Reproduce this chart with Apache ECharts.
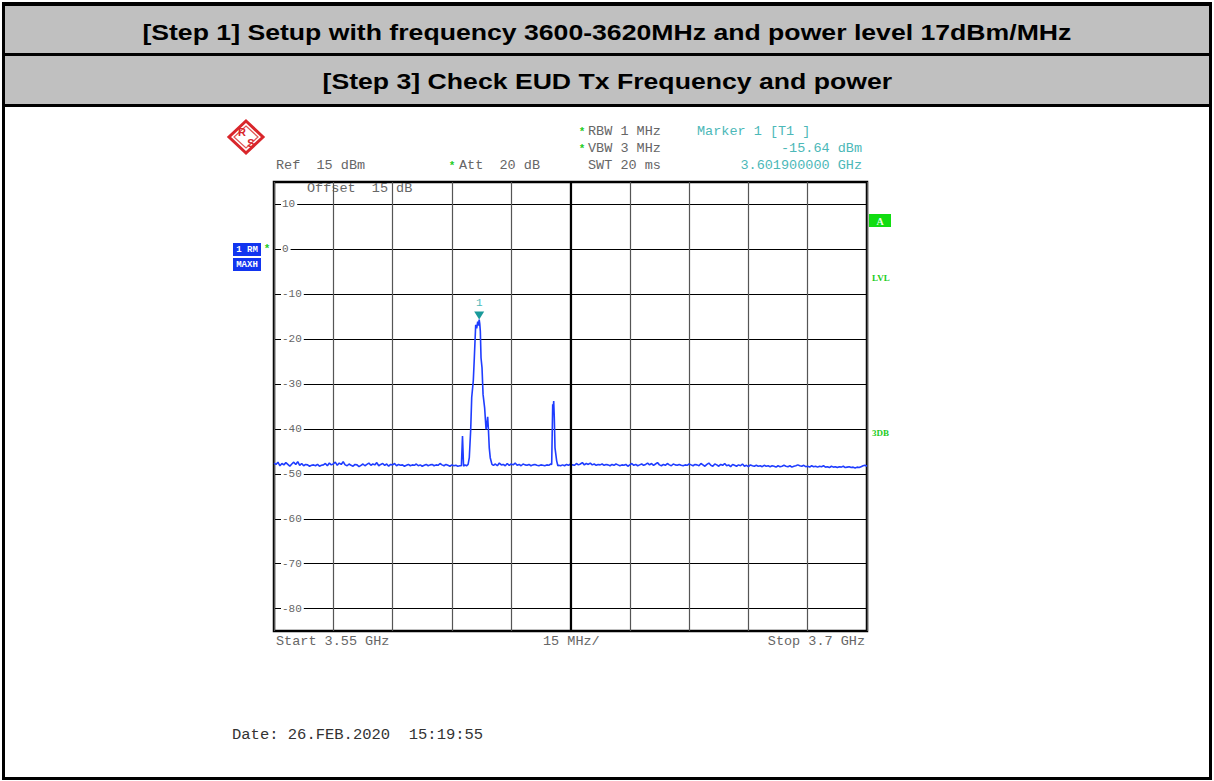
<!DOCTYPE html>
<html>
<head>
<meta charset="utf-8">
<script src="https://cdn.jsdelivr.net/npm/echarts@6/dist/echarts.min.js"></script>
<style>
body {
	margin: 0;
	width: 1214px;
	height: 781px;
	background: #fff;
	overflow: hidden;
}

#frame {
	position: absolute;
	left: 2px;
	top: 2px;
	width: 1210px;
	height: 778px;
	border: 3px solid #000;
	border-top-width: 4px;
	box-sizing: border-box;
}

.band {
	position: absolute;
	left: 0;
	width: 100%;
	background: #c0c0c0;
	border-bottom: 3px solid #000;
	text-align: center;
	font-family: "Liberation Sans", Arial, sans-serif;
	font-weight: bold;
	font-size: 22px;
	color: #000;
}

.band span {
	display: inline-block;
	transform: scaleX(1.21);
}

#band1 { top: 0; height: 47px; line-height: 53px; }
#band2 { top: 50px; height: 48px; line-height: 52px; }

#container {
	position: absolute;
	left: 0;
	top: 0;
	width: 1214px;
	height: 781px;
}
</style>
</head>
<body>
<div id="frame">
	<div class="band" id="band1"><span>[Step 1] Setup with frequency 3600-3620MHz and power level 17dBm/MHz</span></div>
	<div class="band" id="band2"><span>[Step 3] Check EUD Tx Frequency and power</span></div>
</div>
<div id="container"></div>

<script type="text/javascript">
	// sweep 3.55 GHz .. 3.7 GHz, 15 MHz/div, ref 15 dBm, 10 dB/div
	var startMHz = 3550;
	var stopMHz = 3700;
	var stepMHz = 0.5;
	var refDbm = 15;
	var bottomDbm = -85;

	// noise floor 3550.0 .. 3597.0 MHz
	var noiseA = [
		-47.6,-47.9,-47.4,-48.2,-47.7,-48.0,-47.5,-47.9,-48.3,-47.8,
		-47.4,-47.9,-47.3,-48.1,-47.7,-48.2,-47.9,-48.0,-48.3,-48.1,
		-48.0,-48.2,-47.9,-48.3,-48.1,-48.0,-47.7,-48.2,-47.6,-48.0,
		-47.8,-47.4,-48.1,-47.6,-47.9,-47.3,-48.0,-48.2,-47.8,-48.1,
		-48.3,-47.9,-48.0,-48.4,-48.1,-47.8,-48.2,-47.9,-47.6,-48.1,
		-47.8,-48.0,-47.5,-48.2,-47.9,-47.7,-48.1,-47.8,-48.3,-47.9,
		-48.0,-47.7,-48.2,-47.9,-48.1,-48.0,-48.3,-48.1,-47.9,-48.2,
		-48.0,-48.1,-47.8,-48.2,-48.0,-48.3,-48.1,-47.9,-48.2,-48.0,
		-47.9,-48.2,-48.0,-48.1,-47.7,-48.0,-48.2,-47.9,-48.1,-48.3,
		-48.0,-48.2,-48.1,-48.3,-48.2
	];
	var noiseAStart = 3550.0;

	// main carrier [MHz, dBm]
	var peakMain = [
		[3597.4,-48.2],[3597.68,-41.6],[3597.95,-48.3],[3598.3,-48.0],[3598.7,-48.2],
		[3599.1,-47.9],[3599.4,-46.4],[3599.76,-40.1],[3600.01,-33.0],[3600.41,-29.3],
		[3600.67,-24.2],[3601.02,-16.8],[3601.27,-17.6],[3601.53,-16.1],[3601.72,-17.0],
		[3601.9,-15.64],[3602.05,-16.6],[3602.19,-18.2],[3602.37,-24.2],[3602.62,-26.4],
		[3602.88,-32.3],[3603.28,-35.3],[3603.64,-40.1],[3603.8,-39.3],[3604.05,-37.3],
		[3604.23,-40.0],[3604.45,-44.2],[3604.7,-46.4],[3605.13,-47.9]
	];

	// noise floor 3605.5 .. 3620.0 MHz
	var noiseB = [
		-48.1,-47.8,-48.2,-47.6,-48.0,-47.9,-48.2,-47.7,-48.1,-47.8,
		-48.0,-47.6,-48.1,-47.9,-48.2,-47.8,-48.0,-48.1,-47.9,-48.2,
		-48.0,-47.9,-48.1,-48.2,-48.0,-48.1,-48.2,-48.0,-48.1,-47.8
	];
	var noiseBStart = 3605.5;

	// second emission [MHz, dBm]
	var peakSecond = [
		[3620.24,-47.9],[3620.5,-34.5],[3620.62,-35.8],[3620.75,-33.8],[3620.9,-37.5],
		[3621.08,-44.2],[3621.5,-47.1],[3621.8,-48.2]
	];

	// noise floor 3622.0 .. 3700.0 MHz
	var noiseC = [
		-48.1,-48.2,-48.0,-48.2,-47.9,-48.1,-47.8,-48.0,-48.1,-47.7,-48.0,
		-47.8,-47.5,-48.0,-47.7,-47.9,-47.6,-48.0,-47.8,-48.1,-47.9,
		-48.0,-47.8,-48.1,-47.9,-48.0,-48.2,-47.9,-48.1,-47.8,-48.0,
		-48.2,-48.0,-48.1,-47.9,-48.3,-48.0,-47.7,-48.1,-47.9,-48.2,
		-48.0,-47.8,-48.1,-47.9,-47.6,-48.0,-47.7,-48.1,-47.8,-47.5,
		-48.0,-48.2,-47.9,-48.1,-47.7,-48.0,-48.2,-47.8,-48.0,-48.1,
		-47.9,-48.1,-48.2,-48.0,-48.1,-47.8,-48.0,-48.2,-47.9,-48.0,
		-48.2,-47.7,-48.0,-48.3,-47.9,-47.6,-48.1,-48.3,-47.8,-48.0,
		-48.3,-47.9,-48.1,-47.7,-48.2,-48.0,-48.4,-47.9,-48.1,-48.3,
		-48.0,-48.2,-47.8,-48.3,-48.1,-48.4,-48.0,-48.2,-48.3,-48.1,
		-48.3,-48.2,-48.4,-48.1,-48.3,-48.2,-48.4,-48.2,-48.3,-48.5,
		-48.2,-48.4,-48.3,-48.1,-48.3,-48.4,-48.2,-48.5,-48.3,-48.2,
		-48.0,-48.2,-48.3,-48.1,-48.4,-48.3,-48.5,-48.2,-48.4,-48.3,
		-48.5,-48.3,-48.4,-48.2,-48.5,-48.4,-48.6,-48.3,-48.5,-48.4,
		-48.6,-48.4,-48.5,-48.3,-48.6,-48.5,-48.4,-48.6,-48.5,-48.7,
		-48.5,-48.6,-48.4,-48.2,-48.1,-48.3
	];
	var noiseCStart = 3622.0;

	var marker = { freqMHz: 3601.9, level: -15.64, name: '1' };

	// x is plotted as MHz above start so the 15 MHz grid starts at 0
	var trace = [];
	function addNoise(list, from) {
		for (var i = 0; i < list.length; i++) {
			trace.push([from + i * stepMHz - startMHz, list[i]]);
		}
	}
	function addPairs(list) {
		for (var i = 0; i < list.length; i++) {
			trace.push([list[i][0] - startMHz, list[i][1]]);
		}
	}
	addNoise(noiseA, noiseAStart);
	addPairs(peakMain);
	addNoise(noiseB, noiseBStart);
	addPairs(peakSecond);
	addNoise(noiseC, noiseCStart);

	var mono = '"Liberation Mono", "DejaVu Sans Mono", monospace';
	var gray = '#666';
	var teal = '#4cb8b8';
	var green = '#22cc22';

	function txt(x, y, s, opt) {
		opt = opt || {};
		return {
			type: 'text',
			x: x,
			y: y,
			silent: true,
			style: {
				text: s,
				fill: opt.color || gray,
				font: (opt.bold ? 'bold ' : '') + (opt.size || 13.5) + 'px ' + (opt.family || mono),
				textAlign: opt.align || 'left',
				textVerticalAlign: 'middle'
			}
		};
	}

	var dom = document.getElementById("container");
	var myChart = echarts.init(dom, null, { renderer: 'svg' });
	var option = {
		animation: false,
		backgroundColor: 'transparent',
		grid: {
			left: 274,
			top: 182,
			width: 593,
			height: 449,
			show: true,
			borderColor: '#000',
			borderWidth: 2.5,
			outerBoundsMode: 'none'
		},
		xAxis: {
			type: 'value',
			min: 0,
			max: stopMHz - startMHz,
			interval: 15,
			axisLine: { show: false },
			axisTick: { show: false },
			axisLabel: { show: false },
			splitLine: { show: true, lineStyle: { color: '#555', width: 1.2 } }
		},
		yAxis: {
			type: 'value',
			min: bottomDbm,
			max: refDbm,
			interval: 5,
			axisLine: { show: false },
			axisTick: { show: false },
			splitLine: {
				show: true,
				showMinLine: true,
				showMaxLine: true,
				lineStyle: { color: ['rgba(0,0,0,0)', '#000'], width: 1.2 }
			},
			axisLabel: {
				inside: true,
				margin: 7,
				color: gray,
				fontFamily: mono,
				fontSize: 11,
				backgroundColor: '#fff',
				padding: [0, 2, 0, 1],
				formatter: function (v) {
					return (v % 10 === 0 && v > bottomDbm && v < refDbm) ? String(v) : '';
				}
			}
		},
		series: [
			{
				name: 'Trace 1',
				type: 'line',
				data: trace,
				showSymbol: false,
				lineStyle: { color: '#1f3dff', width: 1.6 },
				itemStyle: { color: '#1f3dff' },
				markLine: {
					silent: true,
					symbol: 'none',
					label: { show: false },
					lineStyle: { color: '#000', width: 2.2, type: 'solid' },
					data: [{ xAxis: (stopMHz - startMHz) / 2 }]
				},
				markPoint: {
					silent: true,
					symbol: 'triangle',
					symbolRotate: 180,
					symbolSize: [10, 8],
					symbolOffset: [0, -4],
					itemStyle: { color: '#1a9a9a' },
					label: {
						show: true,
						position: 'top',
						distance: 3,
						color: teal,
						fontFamily: mono,
						fontSize: 11,
						formatter: marker.name
					},
					data: [{ coord: [marker.freqMHz - startMHz, marker.level] }]
				}
			}
		],
		graphic: [
			// R&S logo
			{ type: 'polygon', silent: true, shape: { points: [[246,121],[263,137],[246,153],[229,137]] },
				style: { fill: '#fff', stroke: '#d9262b', lineWidth: 3 } },
			{ type: 'polygon', silent: true, shape: { points: [[246,126],[258,137],[246,148],[234,137]] },
				style: { fill: 'none', stroke: '#e05555', lineWidth: 1.2 } },
			txt(242, 132, 'R', { color: '#d9262b', bold: true, size: 11, family: '"Liberation Sans", sans-serif', align: 'center' }),
			txt(251, 143, 'S', { color: '#d9262b', bold: true, size: 11, family: '"Liberation Sans", sans-serif', align: 'center' }),

			txt(276, 165, 'Ref  15 dBm'),
			txt(452, 166, '*', { color: green, size: 11, bold: true, align: 'center' }),
			txt(459, 165, 'Att  20 dB'),
			txt(582, 132, '*', { color: green, size: 11, bold: true, align: 'center' }),
			txt(588, 131, 'RBW 1 MHz'),
			txt(582, 149, '*', { color: green, size: 11, bold: true, align: 'center' }),
			txt(588, 148, 'VBW 3 MHz'),
			txt(588, 165, 'SWT 20 ms'),
			txt(697, 131, 'Marker 1 [T1 ]', { color: teal }),
			txt(862, 148, marker.level.toFixed(2) + ' dBm', { color: teal, align: 'right' }),
			txt(862, 165, (marker.freqMHz / 1000).toFixed(9) + ' GHz', { color: teal, align: 'right' }),
			txt(307, 188, 'Offset  15 dB'),

			// trace info boxes
			{ type: 'rect', silent: true, shape: { x: 233, y: 243, width: 28, height: 13 }, style: { fill: '#1235f0' } },
			txt(247, 250, '1 RM', { color: '#fff', bold: true, size: 9, align: 'center' }),
			{ type: 'rect', silent: true, shape: { x: 233, y: 258, width: 28, height: 13 }, style: { fill: '#1235f0' } },
			txt(247, 265, 'MAXH', { color: '#fff', bold: true, size: 9, align: 'center' }),
			txt(267, 249, '*', { color: green, size: 11, bold: true, align: 'center' }),

			{ type: 'rect', silent: true, shape: { x: 869, y: 214, width: 22, height: 13 }, style: { fill: '#11dd11' } },
			txt(880, 221, 'A', { color: '#eaffea', bold: true, size: 10, family: '"Liberation Serif", serif', align: 'center' }),
			txt(872, 278, 'LVL', { color: green, bold: true, size: 9, family: '"Liberation Serif", serif' }),
			txt(872, 433, '3DB', { color: green, bold: true, size: 9, family: '"Liberation Serif", serif' }),

			txt(276, 641, 'Start ' + (startMHz / 1000) + ' GHz'),
			txt(543, 641, '15 MHz/'),
			txt(865, 641, 'Stop ' + (stopMHz / 1000) + ' GHz', { align: 'right' }),

			txt(232, 735, 'Date: 26.FEB.2020  15:19:55', { color: '#333', size: 15.5 })
		]
	};

	if (option && typeof option === "object") {
		myChart.setOption(option, true);
	}
</script>
</body>
</html>
